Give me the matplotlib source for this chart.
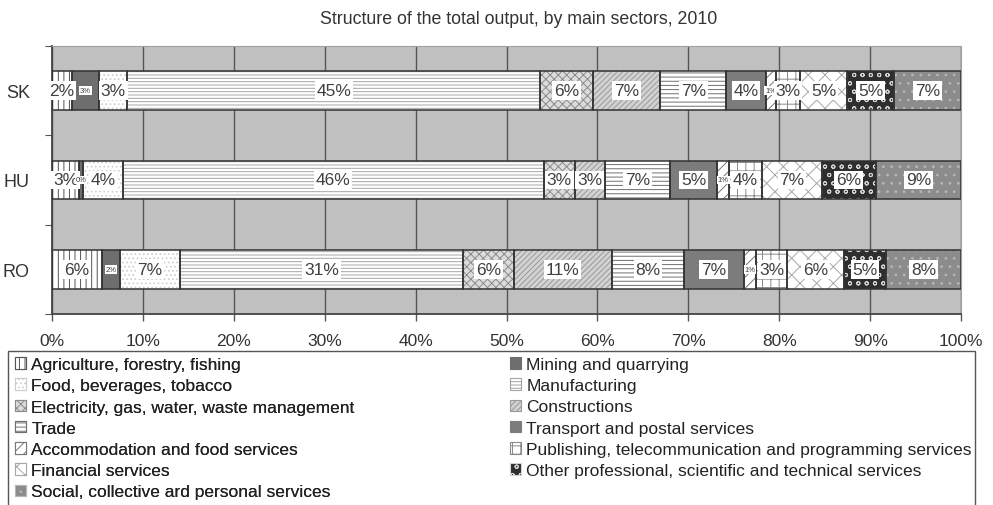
import numpy as np
import matplotlib.pyplot as plt
from matplotlib.patches import Patch, Rectangle

plt.rcParams['font.family'] = ['Liberation Sans', 'DejaVu Sans']
plt.rcParams['hatch.linewidth'] = 0.7

countries = ['SK', 'HU', 'RO']
sectors = [
    'Agriculture, forestry, fishing',
    'Mining and quarrying',
    'Food, beverages, tobacco',
    'Manufacturing',
    'Electricity, gas, water, waste management',
    'Constructions',
    'Trade',
    'Transport and postal services',
    'Accommodation and food services',
    'Publishing, telecommunication and programming services',
    'Financial services',
    'Other professional, scientific and technical services',
    'Social, collective ard personal services',
]
# shares of total output (%), same sector order as above
sk = [2.2, 3.0, 3.1, 45.4, 5.8, 7.4, 7.3, 4.3, 1.1, 2.7, 5.2, 5.1, 7.4]
hu = [3.0, 0.4, 4.4, 46.3, 3.4, 3.3, 7.2, 5.2, 1.3, 3.6, 6.6, 5.9, 9.4]
ro = [5.5, 2.0, 6.6, 31.1, 5.6, 10.8, 7.9, 6.6, 1.4, 3.4, 6.2, 4.7, 8.2]
xticks = [0, 10, 20, 30, 40, 50, 60, 70, 80, 90, 100]

# fill colour, hatch, hatch colour per sector
styles = [
    ('white', '|||', '#555555'),
    ('#6e6e6e', '', '#6e6e6e'),
    ('white', '....', '#cccccc'),
    ('white', '-----', '#a5a5a5'),
    ('#dcdcdc', 'xxxx', '#8c8c8c'),
    ('#d2d2d2', '//////', '#9a9a9a'),
    ('white', '----', '#707070'),
    ('#7c7c7c', '', '#7c7c7c'),
    ('white', '///', '#777777'),
    ('white', '++', '#8a8a8a'),
    ('white', 'xx', '#a8a8a8'),
    ('#2e2e2e', 'oo', '#d5d5d5'),
    ('#8c8c8c', '..', '#b8b8b8'),
]
small_label = {1, 8}

fig = plt.figure(figsize=(9.93, 5.06), dpi=100)
ax = fig.add_axes([52 / 993, 1 - 315 / 506, 909 / 993, 268 / 506])
ax.set_facecolor('#c0c0c0')

data = np.array([sk, hu, ro])
ypos = np.array([2, 1, 0])
height = 0.43
left = np.zeros(len(countries))
for i, (fc, hatch, hc) in enumerate(styles):
    vals = data[:, i]
    ax.barh(ypos, vals, height, left=left, color=fc, hatch=hatch,
            edgecolor=hc, linewidth=0, zorder=2)
    ax.barh(ypos, vals, height, left=left, facecolor='none',
            edgecolor='#333333', linewidth=1.1, zorder=3)
    for y, v, l in zip(ypos, vals, left):
        fs = 5.5 if i in small_label else 12.5
        ax.text(l + v / 2, y, f'{v:.0f}%', ha='center', va='center',
                fontsize=fs, color='#404040', zorder=4,
                bbox=dict(boxstyle='square,pad=0.1', fc='white', ec='none'))
    left += vals

ax.set_xlim(0, 100)
ax.set_ylim(-0.5, 2.5)
ax.set_xticks(xticks)
ax.set_xticklabels([f'{t}%' for t in xticks], fontsize=12.5, color='#333333')
ax.tick_params(axis='x', length=5, width=1, color='#555555', pad=9)
ax.xaxis.grid(True, color='#555555', linewidth=1, zorder=1)
ax.set_axisbelow(True)

ax.set_yticks([-0.5, 0.5, 1.5, 2.5])
ax.set_yticklabels([])
ax.tick_params(axis='y', which='major', length=5, color='#555555')
ax.set_yticks(ypos, minor=True)
ax.set_yticklabels(countries, minor=True, fontsize=13, color='#333333')
ax.tick_params(axis='y', which='minor', length=0, pad=16)

for side in ['left', 'bottom']:
    ax.spines[side].set_color('#444444')
    ax.spines[side].set_linewidth(1.3)
for side in ['top', 'right']:
    ax.spines[side].set_color('#a0a0a0')

fig.text(519 / 993, 1 - 19 / 506, 'Structure of the total output, by main sectors, 2010',
         ha='center', va='center', fontsize=12.8, color='#333333')

# legend frame and two columns
fig.patches.append(Rectangle((8 / 993, -0.02), 967 / 993, 1 - 352 / 506 + 0.02,
                             transform=fig.transFigure, facecolor='white',
                             edgecolor='#555555', linewidth=1))
handles = [Patch(facecolor=fc, hatch=h, edgecolor=hc, linewidth=0.8)
           for fc, h, hc in styles]
kw = dict(frameon=False, fontsize=12.5, handlelength=0.65, handleheight=0.65,
          handletextpad=0.3, labelspacing=0.36, borderpad=0, borderaxespad=0,
          loc='upper left', labelcolor='#222222')
left_idx = list(range(0, 13, 2))
right_idx = list(range(1, 13, 2))
leg1 = fig.legend([handles[i] for i in left_idx], [sectors[i] for i in left_idx],
                  bbox_to_anchor=(15 / 993, 1 - 358 / 506), **kw)
fig.add_artist(leg1)
fig.legend([handles[i] for i in right_idx], [sectors[i] for i in right_idx],
           bbox_to_anchor=(510 / 993, 1 - 358 / 506), **kw)

fig.savefig('out.png', dpi=100)
